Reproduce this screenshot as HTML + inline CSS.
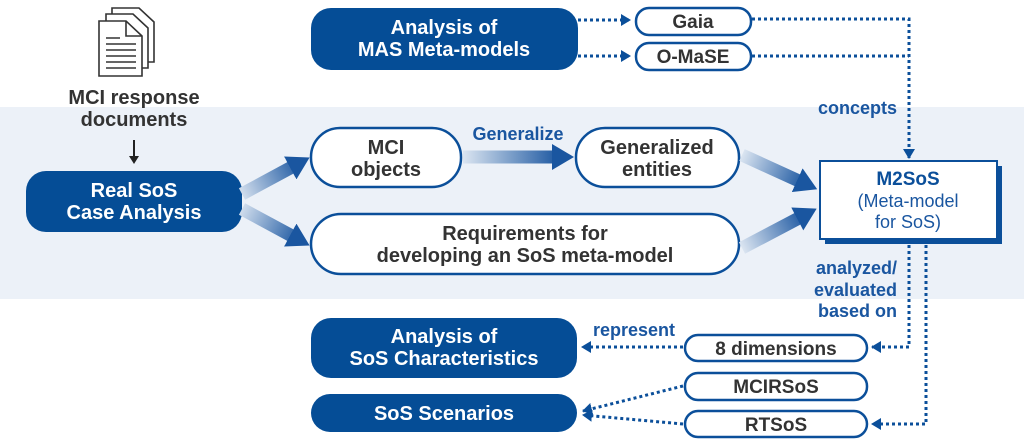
<!DOCTYPE html>
<html><head><meta charset="utf-8"><style>
html,body{margin:0;padding:0;background:#fff}
svg{display:block}
text{font-family:"Liberation Sans",sans-serif;font-weight:bold}
</style></head><body>
<svg width="1024" height="448" viewBox="0 0 1024 448" xmlns="http://www.w3.org/2000/svg">
<defs>
<marker id="ah" markerUnits="userSpaceOnUse" markerWidth="22" markerHeight="26" refX="2" refY="13" orient="auto"><path d="M0,0 L22,13 L0,26 Z" fill="#1a56a0"/></marker>
<marker id="dh" markerUnits="userSpaceOnUse" markerWidth="10" markerHeight="12" refX="9" refY="6" orient="auto"><path d="M0,0 L10,6 L0,12 Z" fill="#0b4f9a"/></marker>
<linearGradient id="g1" gradientUnits="userSpaceOnUse" x1="242" y1="192" x2="300" y2="162"><stop offset="0" stop-color="#cfdcec"/><stop offset="1" stop-color="#1a56a0"/></linearGradient>
<linearGradient id="g2" gradientUnits="userSpaceOnUse" x1="242" y1="210" x2="300" y2="240"><stop offset="0" stop-color="#cfdcec"/><stop offset="1" stop-color="#1a56a0"/></linearGradient>
<linearGradient id="g3" gradientUnits="userSpaceOnUse" x1="463" y1="0" x2="560" y2="0"><stop offset="0" stop-color="#dbe5f1"/><stop offset="1" stop-color="#1a56a0"/></linearGradient>
<linearGradient id="g4" gradientUnits="userSpaceOnUse" x1="742" y1="155" x2="805" y2="183"><stop offset="0" stop-color="#dbe5f1"/><stop offset="1" stop-color="#1a56a0"/></linearGradient>
<linearGradient id="g5" gradientUnits="userSpaceOnUse" x1="742" y1="248" x2="805" y2="216"><stop offset="0" stop-color="#dbe5f1"/><stop offset="1" stop-color="#1a56a0"/></linearGradient>
</defs>
<rect x="0" y="107" width="1024" height="192" fill="#ecf1f8"/>

<!-- doc icon -->
<g fill="#fff" stroke="#333" stroke-width="1.6">
<path d="M112,8 L139,8 L154,22 L154,62 L112,62 Z"/>
<path d="M106,14 L133,14 L148,28 L148,68 L106,68 Z"/>
<path d="M99,21 L126,21 L142,36 L142,76 L99,76 Z"/>
<path d="M126,21 L126,36 L142,36" fill="none"/>
<path d="M106,38h14M106,44h30M106,50h30M106,56h30M106,62h30M106,68h30" fill="none"/>
</g>
<text x="134" y="104" font-size="20" fill="#333" text-anchor="middle">MCI response</text>
<text x="134" y="126" font-size="20" fill="#333" text-anchor="middle">documents</text>
<line x1="134" y1="140" x2="134" y2="158" stroke="#222" stroke-width="2"/>
<path d="M129,156 L134,164 L139,156 Z" fill="#222"/>

<rect x="26" y="171" width="216" height="61" rx="20" fill="#054d96"/>
<text x="134" y="197" font-size="20" fill="#fff" text-anchor="middle">Real SoS</text>
<text x="134" y="219" font-size="20" fill="#fff" text-anchor="middle">Case Analysis</text>

<rect x="311" y="8" width="267" height="62" rx="20" fill="#054d96"/>
<text x="444" y="34" font-size="20" fill="#fff" text-anchor="middle">Analysis of</text>
<text x="444" y="56" font-size="20" fill="#fff" text-anchor="middle">MAS Meta-models</text>

<g fill="#fff" stroke="#0b4f9a" stroke-width="2.5">
<rect x="636" y="8" width="115" height="27" rx="13"/>
<rect x="636" y="43" width="115" height="27" rx="13"/>
<rect x="311" y="128" width="150" height="59" rx="29"/>
<rect x="576" y="128" width="163" height="59" rx="29"/>
<rect x="311" y="214" width="428" height="60" rx="30"/>
<rect x="685" y="335" width="182" height="26" rx="13"/>
<rect x="685" y="373" width="182" height="27" rx="13"/>
<rect x="685" y="411" width="182" height="26" rx="13"/>
</g>
<text x="693" y="28" font-size="19" fill="#333" text-anchor="middle">Gaia</text>
<text x="693" y="63" font-size="19" fill="#333" text-anchor="middle">O-MaSE</text>
<text x="386" y="154" font-size="20" fill="#333" text-anchor="middle">MCI</text>
<text x="386" y="176" font-size="20" fill="#333" text-anchor="middle">objects</text>
<text x="657" y="154" font-size="20" fill="#333" text-anchor="middle">Generalized</text>
<text x="657" y="176" font-size="20" fill="#333" text-anchor="middle">entities</text>
<text x="525" y="240" font-size="20" fill="#333" text-anchor="middle">Requirements for</text>
<text x="525" y="262" font-size="20" fill="#333" text-anchor="middle">developing an SoS meta-model</text>
<text x="776" y="355" font-size="19" fill="#333" text-anchor="middle">8 dimensions</text>
<text x="776" y="393" font-size="19" fill="#333" text-anchor="middle">MCIRSoS</text>
<text x="776" y="431" font-size="19" fill="#333" text-anchor="middle">RTSoS</text>

<text x="518" y="140" font-size="18" fill="#1a56a0" text-anchor="middle">Generalize</text>

<!-- gradient arrows -->
<line x1="242" y1="194" x2="292" y2="167" stroke="url(#g1)" stroke-width="13" marker-end="url(#ah)"/>
<line x1="242" y1="209" x2="292" y2="236" stroke="url(#g2)" stroke-width="13" marker-end="url(#ah)"/>
<line x1="463" y1="157" x2="554" y2="157" stroke="url(#g3)" stroke-width="13" marker-end="url(#ah)"/>
<line x1="742" y1="155" x2="799" y2="181" stroke="url(#g4)" stroke-width="13" marker-end="url(#ah)"/>
<line x1="742" y1="248" x2="799" y2="218" stroke="url(#g5)" stroke-width="13" marker-end="url(#ah)"/>

<!-- M2SoS -->
<rect x="825" y="166" width="177" height="78" fill="#0b4f9a"/>
<rect x="820" y="161" width="177" height="78" fill="#fff" stroke="#0b4f9a" stroke-width="2"/>
<text x="908" y="185" font-size="19" fill="#0b4f9a" text-anchor="middle">M2SoS</text>
<text x="908" y="207" font-size="18" fill="#1a56a0" text-anchor="middle" style="font-weight:normal">(Meta-model</text>
<text x="908" y="228" font-size="18" fill="#1a56a0" text-anchor="middle" style="font-weight:normal">for SoS)</text>

<!-- dotted connectors -->
<g fill="none" stroke="#0b4f9a" stroke-width="3" stroke-dasharray="3 3">
<path d="M578,20 L630,20" marker-end="url(#dh)"/>
<path d="M578,56 L630,56" marker-end="url(#dh)"/>
<path d="M752,19 L909,19 L909,158" marker-end="url(#dh)"/>
<path d="M752,56 L909,56"/>
<path d="M909,245 L909,347 L872,347" marker-end="url(#dh)"/>
<path d="M926,245 L926,424 L872,424" marker-end="url(#dh)"/>
<path d="M683,347 L582,347" marker-end="url(#dh)"/>
<path d="M683,386 L583,411" marker-end="url(#dh)"/>
<path d="M683,424 L583,415" marker-end="url(#dh)"/>
</g>

<text x="897" y="114" font-size="18" fill="#1a56a0" text-anchor="end">concepts</text>
<text x="897" y="274" font-size="18" fill="#1a56a0" text-anchor="end">analyzed/</text>
<text x="897" y="296" font-size="18" fill="#1a56a0" text-anchor="end">evaluated</text>
<text x="897" y="317" font-size="18" fill="#1a56a0" text-anchor="end">based on</text>
<text x="634" y="336" font-size="18" fill="#1a56a0" text-anchor="middle">represent</text>

<rect x="311" y="318" width="266" height="60" rx="20" fill="#054d96"/>
<text x="444" y="343" font-size="20" fill="#fff" text-anchor="middle">Analysis of</text>
<text x="444" y="365" font-size="20" fill="#fff" text-anchor="middle">SoS Characteristics</text>
<rect x="311" y="394" width="266" height="38" rx="19" fill="#054d96"/>
<text x="444" y="420" font-size="20" fill="#fff" text-anchor="middle">SoS Scenarios</text>
</svg>
</body></html>
